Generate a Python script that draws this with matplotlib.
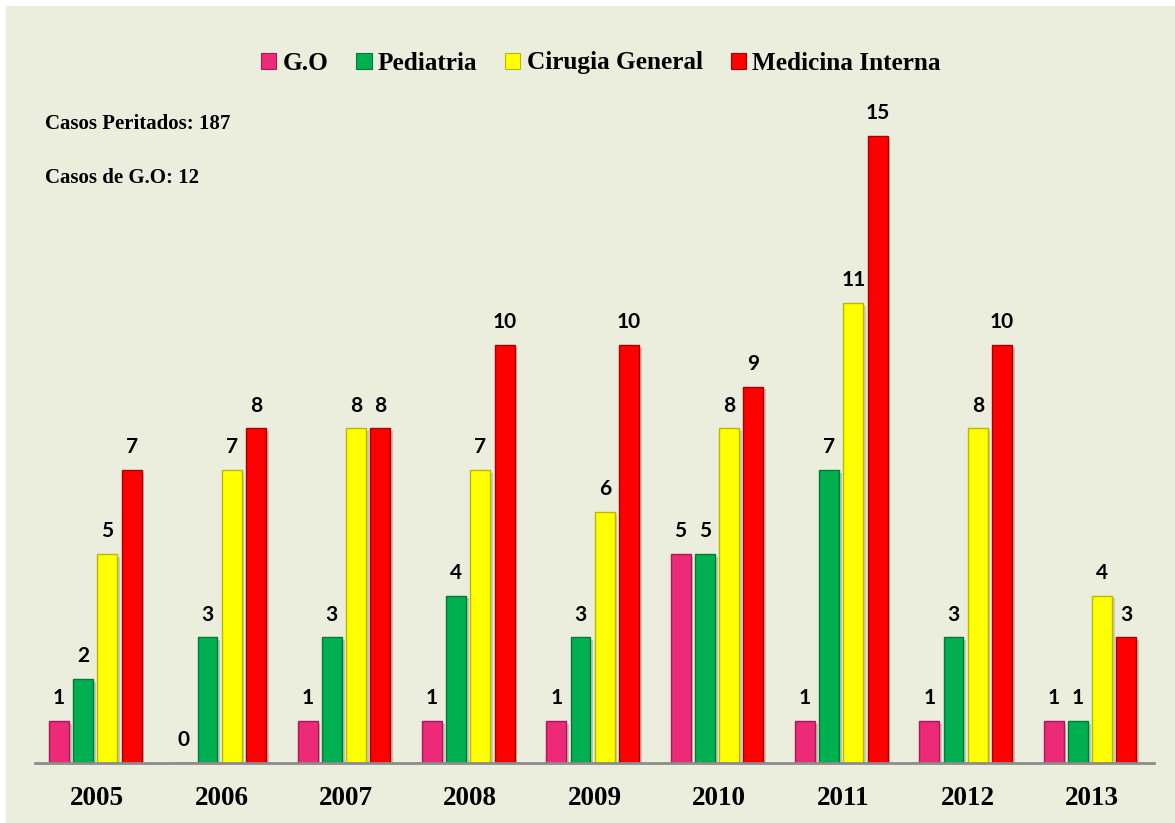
import matplotlib
matplotlib.use('Agg')
import matplotlib.pyplot as plt
import matplotlib.patheffects as pe
from matplotlib.patches import Rectangle, Patch
import numpy as np

years = ['2005', '2006', '2007', '2008', '2009', '2010', '2011', '2012', '2013']
series_names = ['G.O', 'Pediatria', 'Cirugia General', 'Medicina Interna']
go = [1, 0, 1, 1, 1, 5, 1, 1, 1]
pediatria = [2, 3, 3, 4, 3, 5, 7, 3, 1]
cirugia = [5, 7, 8, 7, 6, 8, 11, 8, 4]
medicina = [7, 8, 8, 10, 10, 9, 15, 10, 3]
notes = ['Casos Peritados: 187', 'Casos de G.O: 12']

colors = ['#EC2A78', '#00B050', '#FFFF00', '#FF0000']
edges = ['#A8185A', '#007A38', '#B8B800', '#A80000']
bg = '#EBEEDD'

W, H = 1175, 823
fig = plt.figure(figsize=(W / 100, H / 100), dpi=100)
fig.patch.set_facecolor('white')
fig.patches.append(Rectangle((6 / W, 0), 1 - 6 / W, 1 - 6 / H, transform=fig.transFigure,
                             facecolor=bg, edgecolor='none', zorder=-10))

# axes placed to match the plot area
ax = fig.add_axes([35 / W, (H - 762.7) / H, (1154 - 35) / W, (762.7 - 94) / H])
ax.set_facecolor('none')
ax.set_zorder(1)

x = np.arange(len(years))
step = 0.195
width = 0.16
shadow = [pe.SimplePatchShadow(offset=(2, -2), alpha=0.2), pe.Normal()]
for i, vals in enumerate([go, pediatria, cirugia, medicina]):
    pos = x + (i - 1.5) * step - 0.015
    bars = ax.bar(pos, vals, width, color=colors[i], edgecolor=edges[i], linewidth=1.0,
                  zorder=3, label=series_names[i])
    for b in bars:
        b.set_path_effects(shadow)
    for p, v in zip(pos, vals):
        ax.annotate(str(v), (p, v), xytext=(0, 12), textcoords='offset points',
                    ha='center', va='baseline', fontsize=15, fontweight='bold',
                    family=['Lato', 'DejaVu Sans'], color='black', zorder=4)

ax.set_xlim(-0.5, len(years) - 0.5)
ax.set_ylim(0, 16)
ax.set_xticks(x)
ax.set_xticklabels(years, fontsize=19.5, fontweight='bold', family='Liberation Serif')
ax.tick_params(axis='x', length=0, pad=17)
ax.set_yticks([])
for s in ['top', 'right', 'left']:
    ax.spines[s].set_visible(False)
ax.spines['bottom'].set_color('#8C8C8C')
ax.spines['bottom'].set_linewidth(2)
ax.spines['bottom'].set_zorder(5)

handles = [Patch(facecolor=c, edgecolor=e, linewidth=0.8) for c, e in zip(colors, edges)]
fig.legend(handles, series_names, loc='center', bbox_to_anchor=(601 / W, 1 - 63 / H),
           ncol=4, frameon=False, handlelength=0.6, handleheight=0.6, handletextpad=0.25,
           columnspacing=1.1, prop={'family': 'Liberation Serif', 'weight': 'bold', 'size': 18.2})

fig.text(45 / W, 1 - 124 / H, notes[0], fontsize=15, fontweight='bold',
         family='Liberation Serif', va='center', ha='left')
fig.text(45 / W, 1 - 178 / H, notes[1], fontsize=15, fontweight='bold',
         family='Liberation Serif', va='center', ha='left')

fig.savefig('out.png', dpi=100, facecolor=fig.get_facecolor())
